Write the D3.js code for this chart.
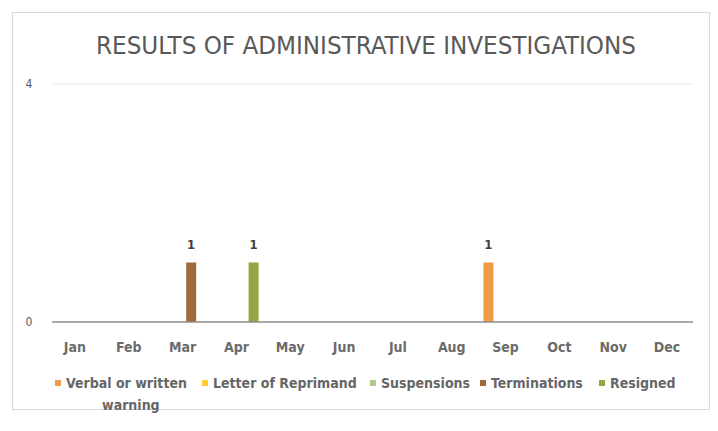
<!DOCTYPE html>
<html>
<head>
<meta charset="utf-8">
<script src="https://cdn.jsdelivr.net/npm/d3@7"></script>
<style>
  html, body { margin: 0; padding: 0; background: #fff; }
  svg { display: block; }
  text { font-family: "DejaVu Sans Condensed", "Liberation Sans Narrow", "Liberation Sans", sans-serif; }
</style>
</head>
<body>
<div id="chart"></div>
<script>
// data
const months = ["Jan", "Feb", "Mar", "Apr", "May", "Jun", "Jul", "Aug", "Sep", "Oct", "Nov", "Dec"];
const seriesNames = ["Verbal or written warning", "Letter of Reprimand", "Suspensions", "Terminations", "Resigned"];
const verbal     = [0, 0, 0, 0, 0, 0, 0, 0, 1, 0, 0, 0];
const reprimand  = [0, 0, 0, 0, 0, 0, 0, 0, 0, 0, 0, 0];
const suspension = [0, 0, 0, 0, 0, 0, 0, 0, 0, 0, 0, 0];
const terminated = [0, 0, 1, 0, 0, 0, 0, 0, 0, 0, 0, 0];
const resigned   = [0, 0, 0, 1, 0, 0, 0, 0, 0, 0, 0, 0];
const yTicks = [0, 4];

const seriesValues = [verbal, reprimand, suspension, terminated, resigned];
const colors = ["#f39a48", "#ffcc33", "#b3c98c", "#9e6a3c", "#93a844"];

const width = 718, height = 431;
const margin = { top: 84, right: 24, bottom: 109, left: 48 };

const svg = d3.select("#chart").append("svg")
  .attr("width", width)
  .attr("height", height);

// card
svg.append("rect")
  .attr("x", 12.5).attr("y", 12.5)
  .attr("width", 697).attr("height", 397)
  .attr("fill", "#fff")
  .attr("stroke", "#d9d9d9");

// title
svg.append("text")
  .attr("x", 366).attr("y", 54)
  .attr("text-anchor", "middle")
  .attr("font-size", 24)
  .attr("fill", "#595959")
  .attr("textLength", 540)
  .attr("lengthAdjust", "spacingAndGlyphs")
  .text("RESULTS OF ADMINISTRATIVE INVESTIGATIONS");

const x0 = d3.scaleBand()
  .domain(months)
  .range([margin.left, width - margin.right]);

const x1 = d3.scaleBand()
  .domain(seriesNames)
  .range([-21.5, 21.5]);

const y = d3.scaleLinear()
  .domain([0, 4])
  .range([height - margin.bottom, margin.top]);

// gridline at top
svg.append("line")
  .attr("x1", 52).attr("x2", 693)
  .attr("y1", y(4)).attr("y2", y(4))
  .attr("stroke", "#ececec");

// y tick labels
svg.selectAll(".ytick")
  .data(yTicks)
  .enter().append("text")
  .attr("class", "ytick")
  .attr("x", 29)
  .attr("y", d => y(d) + 4)
  .attr("text-anchor", "middle")
  .attr("font-size", 12)
  .attr("fill", "#595959")
  .text(d => d);

// bars
const barW = 10;
const bars = [];
seriesValues.forEach((vals, si) => {
  vals.forEach((v, mi) => {
    if (v > 0) bars.push({ s: seriesNames[si], m: months[mi], v, c: colors[si] });
  });
});
const barCenter = d => x0(d.m) + x0.bandwidth() / 2 + x1(d.s) + x1.bandwidth() / 2;

svg.selectAll(".bar")
  .data(bars)
  .enter().append("rect")
  .attr("class", "bar")
  .attr("x", d => barCenter(d) - barW / 2)
  .attr("y", d => y(d.v))
  .attr("width", barW)
  .attr("height", d => y(0) - y(d.v))
  .attr("fill", d => d.c);

// data labels
svg.selectAll(".dlabel")
  .data(bars)
  .enter().append("text")
  .attr("class", "dlabel")
  .attr("x", barCenter)
  .attr("y", d => y(d.v) - 14)
  .attr("text-anchor", "middle")
  .attr("font-size", 13)
  .attr("font-weight", "bold")
  .attr("fill", "#404040")
  .text(d => d.v);

// baseline
svg.append("line")
  .attr("x1", 52).attr("x2", 693)
  .attr("y1", y(0)).attr("y2", y(0))
  .attr("stroke", "#8c8c8c")
  .attr("stroke-width", 1.5);

// month labels
svg.selectAll(".xtick")
  .data(months)
  .enter().append("text")
  .attr("class", "xtick")
  .attr("x", d => x0(d) + x0.bandwidth() / 2)
  .attr("y", 352)
  .attr("text-anchor", "middle")
  .attr("font-size", 14)
  .attr("font-weight", "bold")
  .attr("fill", "#6b6b6b")
  .text(d => d);

// legend
const legendX = [55, 202, 370, 480, 599];
const legend = svg.selectAll(".leg")
  .data(seriesNames)
  .enter().append("g")
  .attr("class", "leg")
  .attr("transform", (d, i) => `translate(${legendX[i]},383)`);

legend.append("rect")
  .attr("x", 0).attr("y", -3)
  .attr("width", 6).attr("height", 6)
  .attr("fill", (d, i) => colors[i]);

legend.each(function (d) {
  const g = d3.select(this);
  const t = g.append("text")
    .attr("x", 11).attr("y", 5)
    .attr("font-size", 14)
    .attr("font-weight", "bold")
    .attr("fill", "#666666");
  if (d === "Verbal or written warning") {
    t.append("tspan").text("Verbal or written");
    t.append("tspan").attr("x", 47).attr("dy", 22).text("warning");
  } else {
    t.text(d);
  }
});
</script>
</body>
</html>
